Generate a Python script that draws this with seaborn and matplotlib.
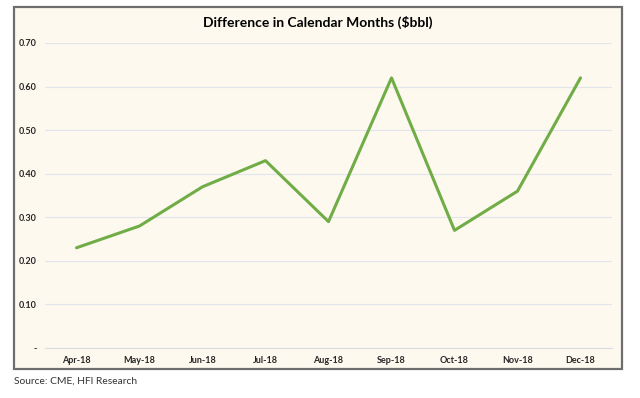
import matplotlib
matplotlib.use("Agg")
import matplotlib.pyplot as plt
import seaborn as sns
import pandas as pd
import numpy as np
from matplotlib.patches import Rectangle

months = ["Apr-18", "May-18", "Jun-18", "Jul-18", "Aug-18", "Sep-18", "Oct-18", "Nov-18", "Dec-18"]
values = [0.23, 0.28, 0.37, 0.43, 0.29, 0.62, 0.27, 0.36, 0.62]
yticks = [0.0, 0.1, 0.2, 0.3, 0.4, 0.5, 0.6, 0.7]
ytick_labels = ["-", "0.10", "0.20", "0.30", "0.40", "0.50", "0.60", "0.70"]

sns.set_theme(style="white")
plt.rcParams['font.family'] = ['Lato', 'DejaVu Sans']

df = pd.DataFrame({"month": months, "value": values})
df["x"] = range(len(months))

W, H = 640, 398
fig = plt.figure(figsize=(W / 100, H / 100), dpi=100)
fig.patch.set_facecolor("white")

bg = "#FDF9EF"
fig.patches.append(Rectangle((14 / W, 1 - 369 / H), (622 - 14) / W, (369 - 7) / H,
                             transform=fig.transFigure, facecolor=bg,
                             edgecolor="#6E6E6E", linewidth=1.6, zorder=-10))

ax = fig.add_axes([45 / W, 1 - 348 / H, (612 - 45) / W, (348 - 43) / H])
ax.set_facecolor("none")
ax.set_zorder(5)

sns.lineplot(data=df, x="x", y="value", ax=ax, color="#70AD47", linewidth=2.2)

ax.set_xlim(-0.5, len(months) - 0.5)
ax.set_ylim(0, 0.7)
ax.set_yticks(yticks)
ax.set_yticklabels(ytick_labels, fontsize=6.5, fontweight="bold", color="#262626")
ax.set_xticks(range(len(months)))
ax.set_xticklabels(months, fontsize=6.5, fontweight="bold", color="#262626")
ax.set_xticks(np.arange(-0.5, len(months), 1), minor=True)
ax.tick_params(axis="x", which="major", length=0, pad=6)
ax.tick_params(axis="x", which="minor", length=3, color="#D9DDE4", width=0.8, direction="in")
ax.tick_params(axis="y", length=0, pad=6)

ax.grid(axis="y", color="#E1E5EC", linewidth=0.8)
ax.grid(axis="x", visible=False)
for s in ["top", "right", "left"]:
    ax.spines[s].set_visible(False)
ax.spines["bottom"].set_color("#D9DDE4")
ax.spines["bottom"].set_linewidth(0.8)
ax.set_xlabel("")
ax.set_ylabel("")

fig.text(0.5 * (14 + 622) / W, 1 - 22 / H, "Difference in Calendar Months ($bbl)",
         ha="center", va="center", fontsize=10, fontweight="bold", color="#000000")
fig.text(14 / W, 1 - 381 / H, "Source: CME, HFI Research", ha="left", va="center",
         fontsize=7.4, color="#333333")

fig.savefig("out.png", dpi=100)
